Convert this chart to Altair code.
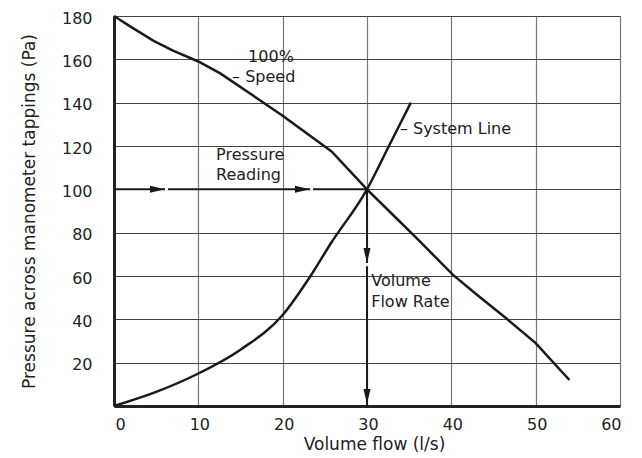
import altair as alt
import pandas as pd

# Fan curve (100% speed)
fan_x = [0, 2, 4.7, 7, 10, 12.6, 20, 25.8, 30, 33, 36, 40.2, 43, 46.5, 50, 54]
fan_y = [180, 175, 168.5, 164, 159, 153.5, 134, 117.5, 100, 88.5, 77, 60.5, 51.5, 40.5, 29, 12]

# System line
sys_x = [0, 5, 10, 15, 20, 23.3, 25.7, 30, 32.6, 35.2]
sys_y = [0, 6.5, 15, 26, 42, 60, 75, 100, 120, 140]

# Operating point guide lines
op_x = 30
op_y = 100

# Arrowheads (centres) and the small white gaps after their tips
arr_h_x = [5.16, 22.35]
arr_v_y = [69.5, 4.4]
gap_h = [[6.05, 6.4], [23.25, 23.6]]
gap_v = [[66.0, 64.5]]

# Annotations
ann_text = ["100%", "– Speed", "Pressure", "Reading", "– System Line", "Volume", "Flow Rate"]
ann_x = [15.9, 14.0, 12.1, 12.1, 33.9, 30.5, 30.5]
ann_y = [161, 151.8, 115.9, 106.6, 127.9, 57.7, 48]

FONT = "DejaVu Sans"
INK = "#1a1a1a"

xs = alt.Scale(domain=[0, 60], nice=False)
ys = alt.Scale(domain=[0, 180], nice=False)

fan = pd.DataFrame({"x": fan_x, "y": fan_y, "o": range(len(fan_x))})
sysd = pd.DataFrame({"x": sys_x, "y": sys_y, "o": range(len(sys_x))})

xax = alt.Axis(values=[0, 10, 20, 30, 40, 50, 60], ticks=False, labelPadding=10,
               labelFontSize=16, labelFont=FONT, labelColor="#222", labelOffset=1,
               title="Volume flow (l/s)", titleFont=FONT, titleFontSize=17,
               titleFontWeight="normal", titleColor="#222", titlePadding=4,
               titleX=260,
               gridColor="#777", gridWidth=1.2, domainColor="#222", domainWidth=3)
yax = alt.Axis(values=[20, 40, 60, 80, 100, 120, 140, 160, 180], ticks=False,
               labelPadding=22, labelFontSize=16, labelFont=FONT, labelColor="#222",
               labelOffset=2,
               title="Pressure across manometer tappings (Pa)", titleFont=FONT,
               titleFontSize=17, titleFontWeight="normal", titleColor="#222",
               titlePadding=23, gridColor="#444", gridWidth=1.2,
               domainColor="#222", domainWidth=3)

base_grid = alt.Chart(pd.DataFrame({"x": [0], "y": [0]})).mark_point(opacity=0).encode(
    x=alt.X("x:Q", scale=xs, axis=xax),
    y=alt.Y("y:Q", scale=ys, axis=yax),
)

fan_line = alt.Chart(fan).mark_line(color=INK, strokeWidth=2.5).encode(
    x=alt.X("x:Q", scale=xs), y=alt.Y("y:Q", scale=ys), order="o:Q")

sys_line = alt.Chart(sysd).mark_line(color=INK, strokeWidth=2.5,
                                     interpolate="monotone").encode(
    x=alt.X("x:Q", scale=xs), y=alt.Y("y:Q", scale=ys), order="o:Q")

h_rule = alt.Chart(pd.DataFrame({"x": [0], "x2": [op_x], "y": [op_y]})).mark_rule(
    color=INK, strokeWidth=2).encode(
    x=alt.X("x:Q", scale=xs), x2="x2:Q", y=alt.Y("y:Q", scale=ys))

v_rule = alt.Chart(pd.DataFrame({"x": [op_x], "y": [op_y], "y2": [0]})).mark_rule(
    color=INK, strokeWidth=2).encode(
    x=alt.X("x:Q", scale=xs), y=alt.Y("y:Q", scale=ys), y2="y2:Q")

h_gaps = alt.Chart(pd.DataFrame({"x": [g[0] for g in gap_h], "x2": [g[1] for g in gap_h],
                                 "y": [op_y] * len(gap_h)})).mark_rule(
    color="white", strokeWidth=3).encode(
    x=alt.X("x:Q", scale=xs), x2="x2:Q", y=alt.Y("y:Q", scale=ys))

v_gaps = alt.Chart(pd.DataFrame({"y": [g[0] for g in gap_v], "y2": [g[1] for g in gap_v],
                                 "x": [op_x] * len(gap_v)})).mark_rule(
    color="white", strokeWidth=3).encode(
    x=alt.X("x:Q", scale=xs), y=alt.Y("y:Q", scale=ys), y2="y2:Q")

h_arrows = alt.Chart(pd.DataFrame({"x": arr_h_x, "y": [op_y] * len(arr_h_x)})).mark_point(
    shape="M -1 -0.47 L 1 0 L -1 0.47 Z", filled=True, color=INK, size=225,
    opacity=1, strokeWidth=0).encode(
    x=alt.X("x:Q", scale=xs), y=alt.Y("y:Q", scale=ys))

v_arrows = alt.Chart(pd.DataFrame({"x": [op_x] * len(arr_v_y), "y": arr_v_y})).mark_point(
    shape="M -0.47 -1 L 0.47 -1 L 0 1 Z", filled=True, color=INK, size=225,
    opacity=1, strokeWidth=0).encode(
    x=alt.X("x:Q", scale=xs), y=alt.Y("y:Q", scale=ys))

ann = alt.Chart(pd.DataFrame({"t": ann_text, "x": ann_x, "y": ann_y})).mark_text(
    align="left", baseline="middle", font=FONT, fontSize=16, color="#222").encode(
    x=alt.X("x:Q", scale=xs), y=alt.Y("y:Q", scale=ys), text="t:N")

chart = alt.layer(base_grid, fan_line, sys_line, h_rule, v_rule, h_gaps, v_gaps,
                  h_arrows, v_arrows, ann).properties(
    width=506, height=390,
    autosize=alt.AutoSizeParams(type="none"),
    padding={"left": 106, "top": 8, "right": 10, "bottom": 50},
).configure_view(stroke="#222", strokeWidth=2.5).configure(background="white")

chart.save("out.html", embed_options={"renderer": "svg", "actions": False})
